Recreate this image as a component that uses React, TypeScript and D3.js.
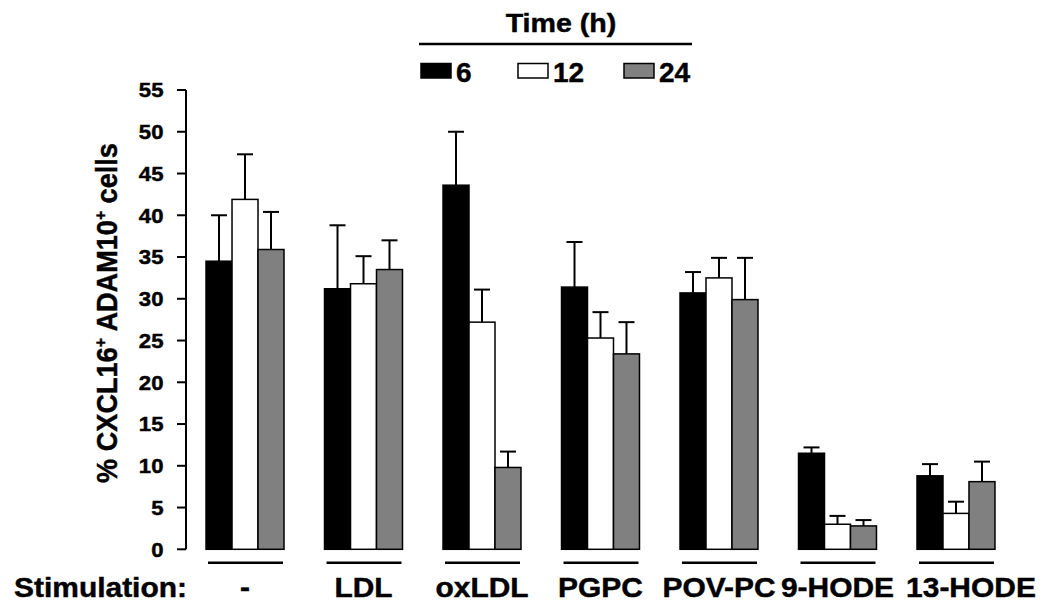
import React from "react";
import * as d3 from "d3";

const categories = ["-", "LDL", "oxLDL", "PGPC", "POV-PC", "9-HODE", "13-HODE"];
const seriesNames = ["6", "12", "24"];
const seriesColors = ["#000000", "#ffffff", "#808080"];
const values6 = [34.5, 31.2, 43.6, 31.4, 30.7, 11.5, 8.8];
const values12 = [41.9, 31.8, 27.2, 25.3, 32.5, 3.0, 4.3];
const values24 = [35.9, 33.5, 9.8, 23.4, 29.9, 2.8, 8.1];
const errors6 = [5.5, 7.6, 6.4, 5.4, 2.5, 0.7, 1.4];
const errors12 = [5.4, 3.3, 3.9, 3.1, 2.4, 1.0, 1.4];
const errors24 = [4.5, 3.5, 1.9, 3.8, 5.0, 0.7, 2.4];
const yTicks = [0, 5, 10, 15, 20, 25, 30, 35, 40, 45, 50, 55];

const W = 1050;
const H = 615;
const FONT = "'Liberation Sans', Arial, Helvetica, sans-serif";

export default function App() {
  const axisX = 186;
  const y = d3.scaleLinear().domain([0, 55]).range([549.3, 90]);
  const x0 = d3
    .scaleBand<string>()
    .domain(categories)
    .range([axisX, 1015])
    .paddingInner(0.342)
    .paddingOuter(0.169);
  const x1 = d3
    .scaleBand<string>()
    .domain(seriesNames)
    .range([0, x0.bandwidth()])
    .padding(0);

  const allValues = [values6, values12, values24];
  const allErrors = [errors6, errors12, errors24];

  const labelY = 596.7;
  const underlineY = 562.7;
  const capW = 16;

  const legendX = [421, 518, 624];
  const textStroke = { stroke: "#000", strokeWidth: 0.45 };

  return (
    <svg
      width={W}
      height={H}
      style={{ position: "absolute", left: 0, top: 0, background: "#fff" }}
      fontFamily={FONT}
      fontWeight="bold"
    >
      <rect x={0} y={0} width={W} height={H} fill="#fff" />
      {/* Legend */}
      <text
        transform={`translate(561,31.7) scale(1.1,1)`}
        textAnchor="middle"
        fontSize={26}
        fill="#000"
        {...textStroke}
      >
        Time (h)
      </text>
      <line x1={419} x2={692} y1={44} y2={44} stroke="#000" strokeWidth={2.5} />
      {seriesNames.map((s, i) => (
        <g key={s}>
          <rect
            x={legendX[i]}
            y={63.5}
            width={30}
            height={14.5}
            fill={seriesColors[i]}
            stroke="#000"
            strokeWidth={1.5}
          />
          <text x={legendX[i] + 35} y={81.7} fontSize={28} fill="#000" {...textStroke}>
            {s}
          </text>
        </g>
      ))}

      {/* Y axis */}
      <line x1={axisX} x2={axisX} y1={y(55)} y2={y(0)} stroke="#000" strokeWidth={2} />
      {yTicks.map((t) => (
        <g key={t}>
          <line x1={177} x2={axisX} y1={y(t)} y2={y(t)} stroke="#000" strokeWidth={2} />
          <text
            transform={`translate(163.5,${y(t)}) scale(1.08,1)`}
            dy="0.36em"
            textAnchor="end"
            fontSize={20.5}
            fill="#000"
            {...textStroke}
          >
            {t}
          </text>
        </g>
      ))}
      <text
        transform={`translate(117,313) rotate(-90) scale(0.92,1)`}
        textAnchor="middle"
        fontSize={29.5}
        fill="#000"
        {...textStroke}
      >
        % CXCL16
        <tspan fontSize={17} dy={-11}>
          +
        </tspan>
        <tspan dy={11}> ADAM10</tspan>
        <tspan fontSize={17} dy={-11}>
          +
        </tspan>
        <tspan dy={11}> cells</tspan>
      </text>

      {/* Bars */}
      {categories.map((c, ci) => {
        const gx = x0(c) as number;
        return (
          <g key={c}>
            {seriesNames.map((s, si) => {
              const v = allValues[si][ci];
              const e = allErrors[si][ci];
              const bx = gx + (x1(s) as number);
              const bw = x1.bandwidth();
              const cx = bx + bw / 2;
              return (
                <g key={s}>
                  <line x1={cx} x2={cx} y1={y(v)} y2={y(v + e)} stroke="#000" strokeWidth={2} />
                  <line
                    x1={cx - capW / 2}
                    x2={cx + capW / 2}
                    y1={y(v + e)}
                    y2={y(v + e)}
                    stroke="#000"
                    strokeWidth={2}
                  />
                  <rect
                    x={bx}
                    y={y(v)}
                    width={bw}
                    height={y(0) - y(v)}
                    fill={seriesColors[si]}
                    stroke="#000"
                    strokeWidth={1.5}
                  />
                </g>
              );
            })}
            <line
              x1={gx + 2}
              x2={gx + x0.bandwidth() - 1}
              y1={underlineY}
              y2={underlineY}
              stroke="#000"
              strokeWidth={2.5}
            />
            <text
              transform={`translate(${gx + x0.bandwidth() / 2 + (ci === categories.length - 1 ? 15 : 0)},${labelY}) scale(1.07,1)`}
              textAnchor="middle"
              fontSize={28}
              fill="#000"
              {...textStroke}
            >
              {c}
            </text>
          </g>
        );
      })}
      <text
        transform={`translate(187,${labelY}) scale(1.07,1)`}
        textAnchor="end"
        fontSize={28}
        fill="#000"
        {...textStroke}
      >
        Stimulation:
      </text>
    </svg>
  );
}
